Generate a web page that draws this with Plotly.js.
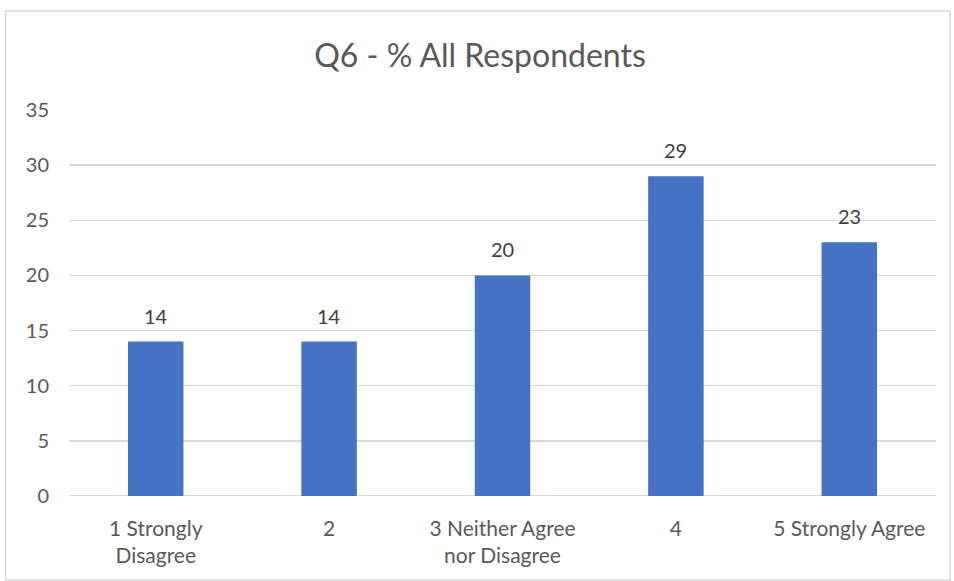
<!DOCTYPE html>
<html><head><meta charset="utf-8">
<script src="https://cdn.plot.ly/plotly-3.0.1.min.js"></script>
<style>html,body{margin:0;padding:0;background:#fff;}#chart{width:954px;height:581px;}</style>
</head><body><div id="chart"></div>
<script>
const categories = ["1 Strongly<br>Disagree", "2", "3 Neither Agree<br>nor Disagree", "4", "5 Strongly Agree"];
const values = [14, 14, 20, 29, 23];
const yTicks = [0, 5, 10, 15, 20, 25, 30, 35];

const font = "Lato, 'Open Sans', sans-serif";
const trace = {
  type: 'bar', x: categories, y: values,
  marker: {color: '#4472C4'},
  hoverinfo: 'none'
};
// data labels placed via category index on the category axis
const labels = values.map((v, i) => ({
  x: i, y: v, xref: 'x', yref: 'y', text: String(v),
  showarrow: false, yanchor: 'middle', yshift: 26,
  font: {family: font, size: 20, color: '#404040'}
}));
const W = 954, H = 581, l = 69, r = 18, t = 110, b = 85;
const pw = W - l - r, ph = H - t - b;
const layout = {
  width: W, height: H,
  margin: {l: l, r: r, t: t, b: b, pad: 0},
  paper_bgcolor: '#fff', plot_bgcolor: '#fff',
  bargap: 0.68,
  showlegend: false,
  title: {text: 'Q6 - % All Respondents', x: 480/954, xref: 'container', xanchor: 'center',
          y: 1 - 56/581, yref: 'container', yanchor: 'middle',
          font: {family: font, size: 32, color: '#595959'}},
  xaxis: {type: 'category', showgrid: false, zeroline: false, showline: false,
          ticks: '', ticklabelstandoff: 18, tickfont: {family: font, size: 21, color: '#595959'}, automargin: false},
  yaxis: {range: [0, 35], tickvals: yTicks, showgrid: true, gridcolor: '#d9d9d9', gridwidth: 1.5,
          zeroline: false, showline: false, ticks: '', ticklabelstandoff: 19,
          tickfont: {family: font, size: 20, color: '#595959'}, automargin: false},
  annotations: labels,
  shapes: [
    {type: 'line', xref: 'paper', yref: 'y', x0: 0, x1: 1, y0: 0, y1: 0, line: {color: '#d9d9d9', width: 2}, layer: 'below'},
    {type: 'rect', xref: 'paper', yref: 'paper',
     x0: (5.5 - l)/pw, x1: (950 - l)/pw, y0: (H - b - 580)/ph, y1: (H - b - 11)/ph,
     line: {color: '#d9d9d9', width: 1.5}, fillcolor: 'rgba(0,0,0,0)', layer: 'below'}
  ]
};
Plotly.newPlot('chart', [trace], layout, {staticPlot: true, displayModeBar: false});
</script></body></html>
